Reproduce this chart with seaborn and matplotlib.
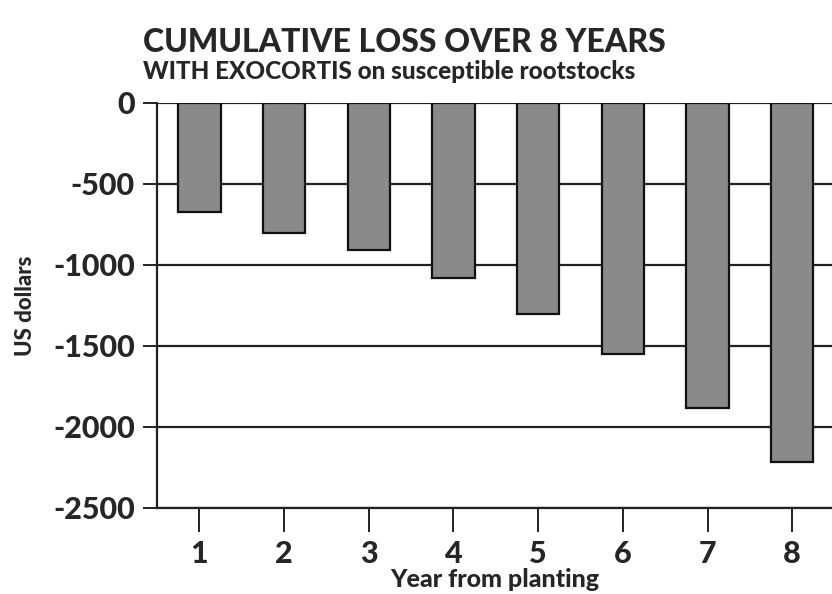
import matplotlib
matplotlib.use("Agg")
import matplotlib.pyplot as plt
import seaborn as sns
import pandas as pd

years = ["1", "2", "3", "4", "5", "6", "7", "8"]
loss = [-675, -800, -910, -1080, -1305, -1550, -1885, -2215]
yticks = [0, -500, -1000, -1500, -2000, -2500]

sns.set_style("white")
plt.rcParams['font.family'] = ['Lato', 'DejaVu Sans']

df = pd.DataFrame({"Year": years, "Loss": loss})

fig = plt.figure(figsize=(8.32, 5.94), dpi=100)
ax = fig.add_axes([0.1887, 0.1448, 0.8113, 0.6818])

for v in yticks:
    ax.axhline(v, color="#222222", lw=1.6, zorder=0)

sns.barplot(data=df, x="Year", y="Loss", color="#8a8a8a", edgecolor="#111111",
            linewidth=1.6, width=0.5, saturation=1, ax=ax, zorder=2)

ax.set_ylim(-2500, 0)
ax.set_xlim(-0.5, 7.47)
ax.set_yticks(yticks)
ax.set_yticklabels([str(v) for v in yticks], fontsize=22, fontweight="black")
ax.set_xticklabels(years, fontsize=22, fontweight="black")
ax.tick_params(axis="y", direction="out", length=10, width=1.4, color="#222222", pad=6, left=True)
ax.tick_params(axis="x", direction="out", length=17, width=1.4, color="#222222", pad=6, bottom=True)

for s in ["top", "right"]:
    ax.spines[s].set_visible(False)
ax.spines["left"].set_linewidth(1.6)
ax.spines["left"].set_color("#222222")
ax.spines["bottom"].set_linewidth(1.6)
ax.spines["bottom"].set_color("#222222")

ax.set_xlabel("Year from planting", fontsize=18, fontweight="black", labelpad=0)
ax.set_ylabel("US dollars", fontsize=16, fontweight="black", labelpad=12)

fig.text(0.172, 0.928, "CUMULATIVE LOSS OVER 8 YEARS", fontsize=23, fontweight="black",
         ha="left", va="center")
fig.text(0.172, 0.880, "WITH EXOCORTIS on susceptible rootstocks", fontsize=17.5, fontweight="black",
         ha="left", va="center")

fig.savefig("out.png", dpi=100)
